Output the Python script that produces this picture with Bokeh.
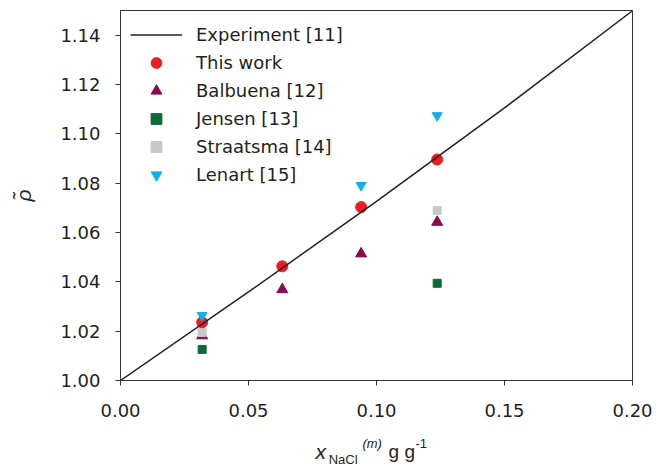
from bokeh.plotting import figure
from bokeh.layouts import column
from bokeh.models import (Legend, LegendItem, Label, FixedTicker, NumeralTickFormatter,
                          Range1d)
from bokeh.embed import file_html
from bokeh.resources import INLINE

# ---- data ----
exp_x = [0.0, 0.05, 0.10, 0.15, 0.20]
exp_rho = [1.0, 1.0359, 1.0726, 1.1105, 1.1499]

this_x = [0.0319, 0.0632, 0.0940, 0.1237]
this_rho = [1.0236, 1.0463, 1.0703, 1.0896]

balb_x = [0.0319, 0.0632, 0.0940, 0.1237]
balb_rho = [1.0182, 1.0369, 1.0514, 1.0642]

jens_x = [0.0319, 0.1237]
jens_rho = [1.0126, 1.0394]

straat_x = [0.0319, 0.1237]
straat_rho = [1.0195, 1.0689]

len_x = [0.0319, 0.0940, 0.1237]
len_rho = [1.0264, 1.0791, 1.1074]

x_ticks = [0.0, 0.05, 0.10, 0.15, 0.20]
y_ticks = [1.00, 1.02, 1.04, 1.06, 1.08, 1.10, 1.12, 1.14]

FONT = "DejaVu Sans"
TFONT = "Liberation Sans"
TXT = "#231f20"

xr = Range1d(0, 0.2)
p = figure(frame_width=512, frame_height=370, output_backend="svg", toolbar_location=None,
           x_range=xr, y_range=Range1d(1.0, 1.15),
           min_border_left=120, min_border_right=22, min_border_top=10, min_border_bottom=50)
p.grid.visible = False
p.outline_line_color = "#333333"
p.outline_line_width = 1

for ax in (p.xaxis[0], p.yaxis[0]):
    ax.axis_line_color = "#333333"
    ax.major_tick_line_color = "#333333"
    ax.major_tick_out = 5
    ax.major_tick_in = 0
    ax.minor_tick_line_color = None
    ax.major_label_text_font = FONT
    ax.major_label_text_font_size = "18px"
    ax.major_label_text_color = TXT

p.xaxis.ticker = FixedTicker(ticks=x_ticks)
p.yaxis.ticker = FixedTicker(ticks=y_ticks)
p.xaxis.formatter = NumeralTickFormatter(format="0.00")
p.yaxis.formatter = NumeralTickFormatter(format="0.00")
p.xaxis.major_label_standoff = 18
p.yaxis.major_label_standoff = 15

p.yaxis.axis_label = "\u03c1\u0303"
p.yaxis.axis_label_text_font = TFONT
p.yaxis.axis_label_text_font_style = "italic"
p.yaxis.axis_label_text_font_size = "21px"
p.yaxis.axis_label_text_color = TXT
p.yaxis.axis_label_standoff = 22

# ---- marks ----
r_balb = p.scatter(balb_x, balb_rho, marker="triangle", size=11, color="#870B52")
r_jens = p.scatter(jens_x, jens_rho, marker="square", size=8, color="#0E6B36")
r_straat = p.scatter(straat_x, straat_rho, marker="square", size=8, color="#C8C8C8")
r_this = p.scatter(this_x, this_rho, marker="circle", size=11, color="#ED1C24")
r_len = p.scatter(len_x, len_rho, marker="inverted_triangle", size=10, color="#13AEEC")
r_exp = p.line(exp_x, exp_rho, line_color="#231f20", line_width=1.5)

legend = Legend(items=[
    LegendItem(label="Experiment [11]", renderers=[r_exp]),
    LegendItem(label="This work", renderers=[r_this]),
    LegendItem(label="Balbuena [12]", renderers=[r_balb]),
    LegendItem(label="Jensen [13]", renderers=[r_jens]),
    LegendItem(label="Straatsma [14]", renderers=[r_straat]),
    LegendItem(label="Lenart [15]", renderers=[r_len]),
], location=(10, 192))
legend.margin = 0
legend.padding = 0
legend.spacing = 1
legend.glyph_width = 52
legend.glyph_height = 27
legend.label_height = 27
legend.label_standoff = 14
legend.label_text_font = FONT
legend.label_text_font_size = "18px"
legend.label_text_color = TXT
legend.background_fill_alpha = 0
legend.border_line_color = None
p.add_layout(legend)

# ---- x-axis title strip, built from pieces ----
q = figure(frame_width=512, frame_height=38, output_backend="svg", toolbar_location=None,
           x_range=xr, y_range=Range1d(0, 1), x_axis_type=None, y_axis_type=None,
           min_border_left=120, min_border_right=22, min_border_top=0, min_border_bottom=0)
q.grid.visible = False
q.outline_line_color = None

def lab(x, y, t, size, style="normal"):
    q.add_layout(Label(x=x, y=y, text=t, text_font=TFONT, text_font_size=size,
                       text_font_style=style, text_color=TXT,
                       text_baseline="alphabetic", text_align="left"))

lab(0.0762, 0.447, "x", "21px", "italic")
lab(0.0813, 0.237, "NaCl", "13px")
lab(0.0945, 0.658, "(m)", "13px", "italic")
lab(0.1047, 0.447, "g g", "19px")
lab(0.1152, 0.658, "-1", "13px")

layout = column(p, q, spacing=0)
open("out.html", "w").write(file_html(layout, INLINE))
